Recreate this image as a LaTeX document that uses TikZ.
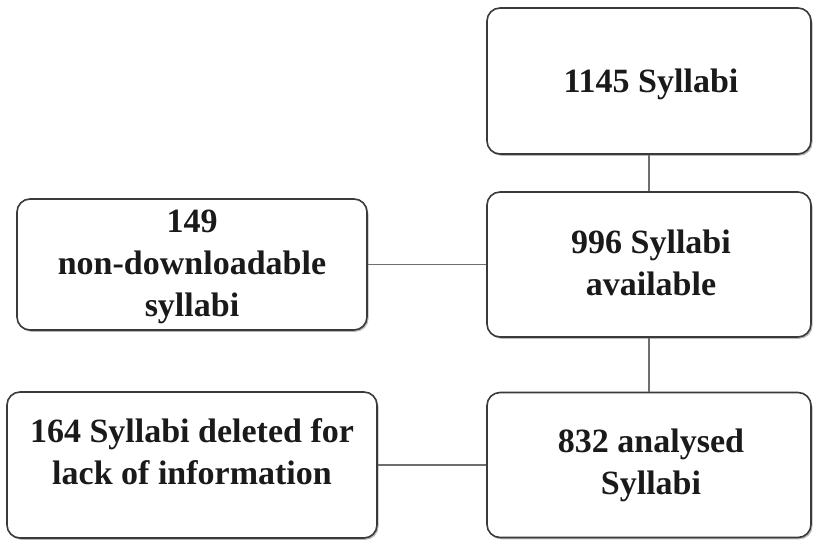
\documentclass[tikz,border=0pt]{standalone}
\usepackage{fontspec}
\setmainfont{Liberation Serif}
\usetikzlibrary{shadows}
\definecolor{edge}{HTML}{3A3A3A}
\definecolor{link}{HTML}{6E6E6E}
\definecolor{ink}{HTML}{1A1A1A}
\begin{document}
\begin{tikzpicture}[x=1pt,y=-1pt,
  box/.style={draw=edge, line width=1.6pt, rounded corners=13pt, fill=white,
    inner sep=0pt,
    drop shadow={shadow xshift=1.5pt, shadow yshift=-1.8pt, fill=black!45, opacity=0.6}},
  lbl/.style={text=ink, font=\fontsize{34}{42}\selectfont\bfseries, align=center, inner sep=0pt},
  conn/.style={draw=link, line width=1.4pt}]
\useasboundingbox (0,0) rectangle (813,541);
% right column boxes
\node[box, minimum width=324pt, minimum height=146pt] (top) at (649,81) {};
\node[box, minimum width=324pt, minimum height=145pt] (mid) at (649,264.5) {};
\node[box, minimum width=324pt, minimum height=145pt] (bot) at (649,465) {};
% left boxes
\node[box, minimum width=350pt, minimum height=131pt] (nd) at (192,264.5) {};
\node[box, minimum width=370pt, minimum height=146pt] (del) at (192,465) {};
% texts
\node[lbl] (ttop) at (651,84) {1145 Syllabi};
\node[lbl] (tmid) at (651,263) {996 Syllabi\\available};
\node[lbl] (tbot) at (651,465) {832 analysed\\Syllabi};
\node[lbl] (tnd) at (192,267) {149\\non-downloadable\\syllabi};
\node[lbl] (tdel) at (192,452) {164 Syllabi deleted for\\lack of information};
% connectors
\draw[conn] (top.south) -- (mid.north);
\draw[conn] (mid.south) -- (bot.north);
\draw[conn] (nd.east) -- (mid.west);
\draw[conn] (del.east) -- (bot.west);
\end{tikzpicture}
\end{document}
